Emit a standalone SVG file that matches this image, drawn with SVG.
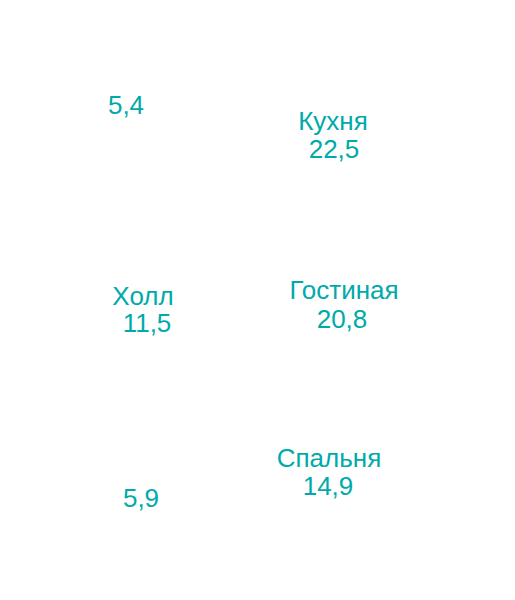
<svg xmlns="http://www.w3.org/2000/svg" width="515" height="600" viewBox="0 0 515 600">
<style>
.bg{fill:#ffffff}
.lbl{font-family:"Liberation Sans",Arial,sans-serif;font-size:26px;fill:#00aaaa;text-anchor:middle}
</style>
<rect class="bg" x="0" y="0" width="515" height="600"/>
<g id="connectors"></g>
<g id="room-5-4"><text class="lbl" x="126" y="114">5,4</text></g>
<g id="room-kitchen"><text class="lbl" x="333" y="130">Кухня</text><text class="lbl" x="334" y="158">22,5</text></g>
<g id="room-hall"><text class="lbl" x="143" y="305">Холл</text><text class="lbl" x="147" y="332">11,5</text></g>
<g id="room-living"><text class="lbl" x="344" y="299">Гостиная</text><text class="lbl" x="342" y="328">20,8</text></g>
<g id="room-bedroom"><text class="lbl" x="329" y="467">Спальня</text><text class="lbl" x="328" y="495">14,9</text></g>
<g id="room-5-9"><text class="lbl" x="141" y="507">5,9</text></g>
</svg>
